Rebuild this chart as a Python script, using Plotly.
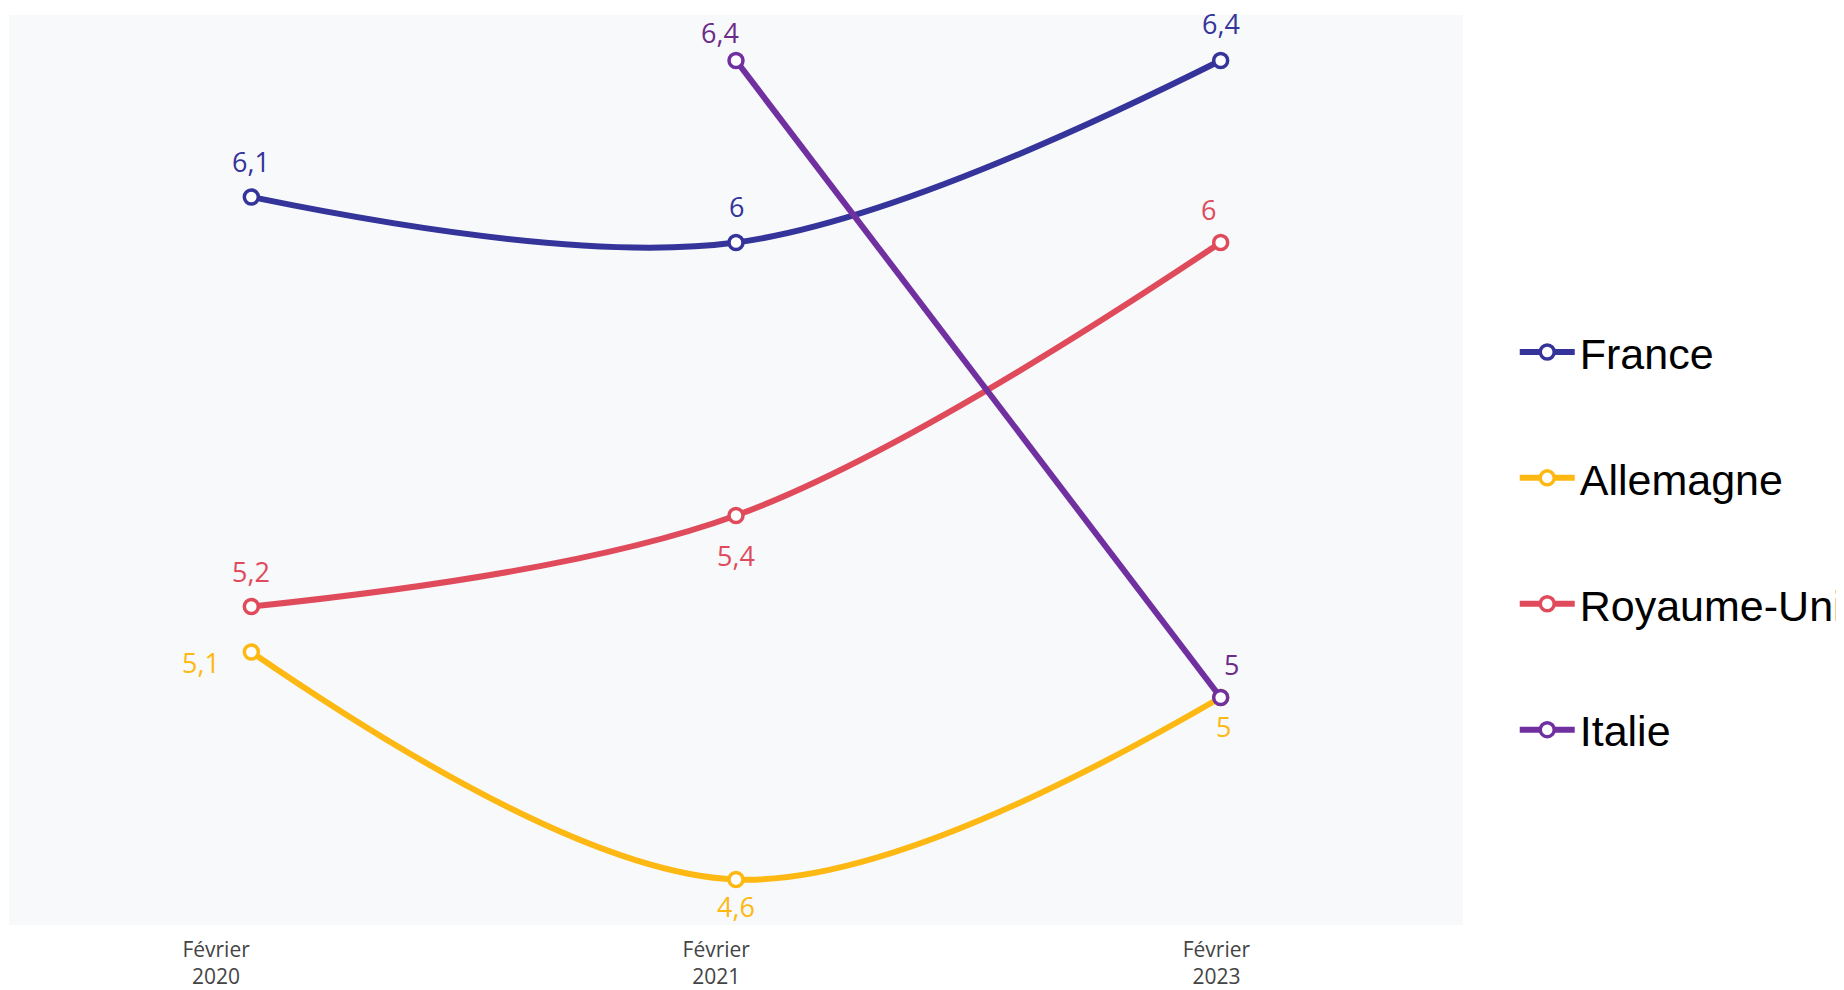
import plotly.graph_objects as go

categories = ["Février<br>2020", "Février<br>2021", "Février<br>2023"]
france = [6.1, 6.0, 6.4]
allemagne = [5.1, 4.6, 5.0]
royaume_uni = [5.2, 5.4, 6.0]
italie = [None, 6.4, 5.0]

series = [
    ("France", france, "#34349a", "#34349a", "spline"),
    ("Allemagne", allemagne, "#fdb813", "#fdb813", "spline"),
    ("Royaume-Uni", royaume_uni, "#e04b5c", "#e04b5c", "spline"),
    ("Italie", italie, "#7030a0", "#6b2c88", "linear"),
]

# label nudges in pixels (style), per series and point
label_shift = {
    "France": [(0, 36), (0, 36), (0, 37)],
    "Allemagne": [(-50, -10), (0, -27), (3, -29)],
    "Royaume-Uni": [(0, 35), (0, -40), (-12, 33)],
    "Italie": [(0, 0), (-16, 28), (11, 33)],
}

fig = go.Figure()
annotations = []
for gi, (name, vals, color, lcolor, shape) in enumerate(series):
    fig.add_trace(go.Scatter(
        x=categories, y=vals, name=name, mode="lines+markers",
        line=dict(color=color, width=6, shape=shape),
        marker=dict(symbol="circle", size=14, color="white",
                    line=dict(color=color, width=3.5)),
        legendgroup="g%d" % gi,
        connectgaps=False,
        hoverinfo="skip",
    ))
    for i, v in enumerate(vals):
        if v is None:
            continue
        dx, dy = label_shift[name][i]
        txt = ("%g" % v).replace(".", ",")
        annotations.append(dict(
            x=categories[i], y=v, xref="x", yref="y", text=txt,
            showarrow=False, xshift=dx, yshift=dy,
            font=dict(family="Open Sans", size=27, color=lcolor),
        ))

# carrier for the tick-label axis (no visible marks)
fig.add_trace(go.Scatter(
    x=list(range(len(categories))), y=[None] * len(categories),
    xaxis="x2", yaxis="y", showlegend=False, hoverinfo="skip", mode="lines",
))

fig.update_layout(
    width=1844, height=990,
    margin=dict(l=1, r=389, t=7, b=73, autoexpand=False),
    paper_bgcolor="white",
    plot_bgcolor="#f8f9fb",
    showlegend=True,
    legend=dict(
        xref="container", yref="container",
        x=0.8171, xanchor="left", y=0.4616, yanchor="middle",
        font=dict(family="Liberation Sans, Arial", size=43, color="black"),
        traceorder="grouped", tracegroupgap=67,
        itemwidth=55, bgcolor="rgba(0,0,0,0)",
    ),
    xaxis=dict(type="category", range=[-0.5, 2.5], showgrid=False,
               zeroline=False, showticklabels=False, ticks=""),
    xaxis2=dict(overlaying="x", anchor="y", side="bottom", type="linear",
                range=[-0.414, 2.493], tickvals=[0, 1, 2],
                ticktext=categories, showgrid=False, zeroline=False,
                ticks="", ticklabelstandoff=10,
                tickfont=dict(family="Open Sans", size=21, color="#444")),
    yaxis=dict(range=[4.5, 6.5], showgrid=False, zeroline=False,
               showticklabels=False, ticks=""),
    annotations=annotations,
)

fig.write_html("out.html")
